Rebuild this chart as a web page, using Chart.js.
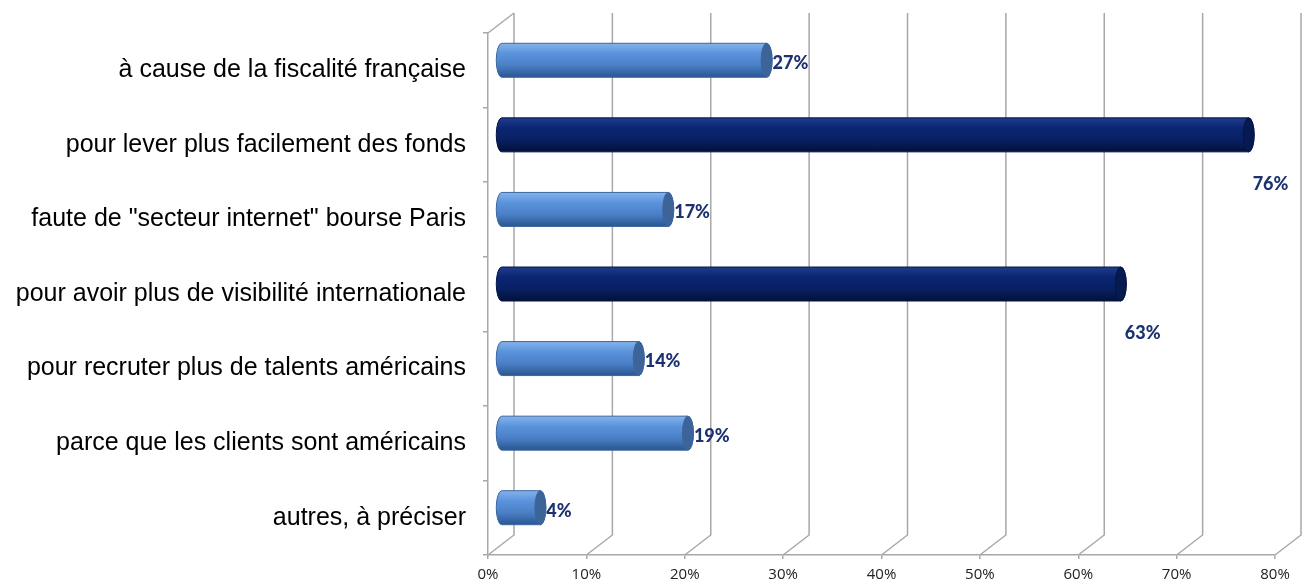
<!DOCTYPE html>
<html>
<head>
<meta charset="utf-8">
<script src="https://cdn.jsdelivr.net/npm/chart.js@4"></script>
<style>
  html, body { margin: 0; padding: 0; background: #fff; }
  #wrap { width: 1305px; height: 587px; }
</style>
</head>
<body>
<div id="wrap"><canvas id="myChart"></canvas></div>
<script>
const categories = [
    'à cause de la fiscalité française',
    'pour lever plus facilement des fonds',
    'faute de "secteur internet" bourse Paris',
    'pour avoir plus de visibilité internationale',
    'pour recruter plus de talents américains',
    'parce que les clients sont américains',
    'autres, à préciser'
];
const values = [27, 76, 17, 63, 14, 19, 4];
const highlighted = [false, true, false, true, false, false, false];
const xTicks = [0, 10, 20, 30, 40, 50, 60, 70, 80];

// depth of the fake 3d box
const DX = 26, DY = 20;

const lightCols = { hi: '#86b2ea', mid: '#5a93dc', mid2: '#4a7fc6', lo: '#2b5690', cap: '#3d6499', edge: '#3a66a2' };
const darkCols = { hi: '#1f3d8c', mid: '#0b2572', mid2: '#082062', lo: '#03113a', cap: '#061a50', edge: '#04154a' };

function cylinder(ctx, x0, x1, cy, h, c) {
    const rx = 5.5, ry = h / 2, top = cy - ry;
    const g = ctx.createLinearGradient(0, top, 0, top + h);
    g.addColorStop(0, c.hi);
    g.addColorStop(0.3, c.mid);
    g.addColorStop(0.65, c.mid2);
    g.addColorStop(1, c.lo);
    ctx.beginPath();
    ctx.moveTo(x0, top);
    ctx.lineTo(x1, top);
    ctx.ellipse(x1, cy, rx, ry, 0, -Math.PI / 2, Math.PI / 2);
    ctx.lineTo(x0, top + h);
    ctx.ellipse(x0, cy, rx, ry, 0, Math.PI / 2, Math.PI * 1.5);
    ctx.closePath();
    ctx.fillStyle = g;
    ctx.fill();
    ctx.strokeStyle = c.edge;
    ctx.lineWidth = 1;
    ctx.stroke();
    ctx.beginPath();
    ctx.ellipse(x1, cy, rx, ry, 0, 0, Math.PI * 2);
    ctx.fillStyle = c.cap;
    ctx.fill();
    ctx.stroke();
}

const box3d = {
    id: 'box3d',
    beforeDatasetsDraw(chart) {
        const { ctx, chartArea: a, scales: { x } } = chart;
        ctx.save();
        ctx.strokeStyle = '#a8a8a8';
        ctx.lineWidth = 1.5;
        xTicks.forEach(v => {
            const px = x.getPixelForValue(v);
            ctx.beginPath();
            ctx.moveTo(px, a.bottom);
            ctx.lineTo(px + DX, a.bottom - DY);
            ctx.lineTo(px + DX, a.top - DY);
            ctx.stroke();
        });
        // left wall top edge
        ctx.beginPath();
        ctx.moveTo(a.left, a.top);
        ctx.lineTo(a.left + DX, a.top - DY);
        ctx.stroke();
        ctx.restore();
    },
    afterDatasetsDraw(chart) {
        const { ctx } = chart;
        const meta = chart.getDatasetMeta(0);
        ctx.save();
        meta.data.forEach((bar, i) => {
            const cy = bar.y - DY / 2;
            const x0 = bar.base + DX / 2;
            const x1 = bar.x + DX / 2;
            cylinder(ctx, x0, x1, cy, bar.height, highlighted[i] ? darkCols : lightCols);
            ctx.fillStyle = '#1c3270';
            ctx.font = '900 18px Lato';
            ctx.textBaseline = 'middle';
            ctx.textAlign = 'left';
            if (highlighted[i]) {
                ctx.fillText(values[i] + '%', x1 + 4, cy + 49);
            } else {
                ctx.fillText(values[i] + '%', x1 + 6, cy + 3);
            }
        });
        ctx.restore();
    }
};

const config = {
    type: 'bar',
    data: {
        labels: categories,
        datasets: [{
            data: values,
            backgroundColor: 'rgba(0,0,0,0)',
            borderWidth: 0,
            barThickness: 34
        }]
    },
    options: {
        indexAxis: 'y',
        responsive: true,
        maintainAspectRatio: false,
        animation: false,
        layout: { padding: { top: 33, right: 30, left: 0, bottom: 0 } },
        plugins: {
            legend: { display: false },
            tooltip: { enabled: false }
        },
        scales: {
            x: {
                min: 0,
                max: 80,
                afterFit: scale => { scale.height = 30; },
                afterBuildTicks: scale => { scale.ticks = xTicks.map(v => ({ value: v })); },
                ticks: {
                    callback: v => v + '%',
                    font: { family: 'Open Sans', size: 15 },
                    color: '#222',
                    padding: 7,
                    maxRotation: 0
                },
                grid: { drawOnChartArea: false, tickLength: 4, color: '#a8a8a8', lineWidth: 1.5 },
                border: { color: '#a8a8a8', width: 1.5 }
            },
            y: {
                afterFit: scale => { scale.width = 488; },
                ticks: {
                    font: { family: 'Liberation Sans', size: 25 },
                    color: '#000',
                    padding: 17
                },
                grid: { drawOnChartArea: false, offset: true, tickLength: 5, color: '#a8a8a8', lineWidth: 1.5 },
                border: { color: '#a8a8a8', width: 1.5 }
            }
        }
    },
    plugins: [box3d]
};

new Chart(document.getElementById('myChart'), config);
</script>
</body>
</html>
